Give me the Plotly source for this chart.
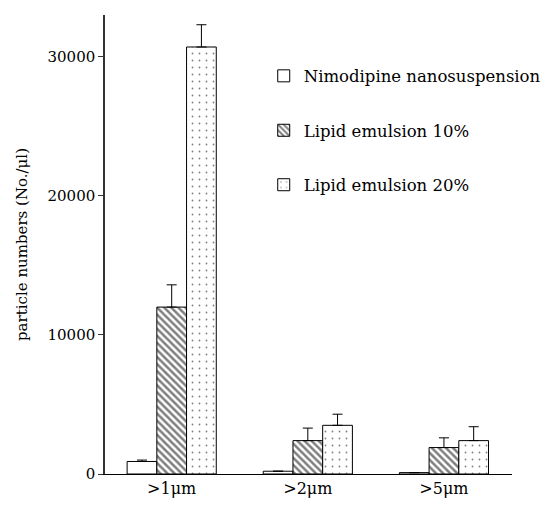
import plotly.graph_objects as go

categories = [">1μm", ">2μm", ">5μm"]
series_names = ["Nimodipine nanosuspension", "Lipid emulsion 10%", "Lipid emulsion 20%"]
nano_vals = [900, 200, 100]
nano_err = [100, 0, 0]
le10_vals = [12000, 2400, 1900]
le10_err = [1600, 900, 700]
le20_vals = [30700, 3500, 2400]
le20_err = [1600, 800, 1000]
y_ticks = [0, 10000, 20000, 30000]
y_tick_text = ["0", "10000", "20000", "30000"]

FONT = "DejaVu Serif"

fig = go.Figure()
specs = [
    (series_names[0], nano_vals, nano_err, dict(shape="")),
    (series_names[1], le10_vals, le10_err, dict(shape="\\", size=5, solidity=0.5, fgcolor="black", bgcolor="white")),
    (series_names[2], le20_vals, le20_err, dict(shape=".", size=7, solidity=0.05, fgcolor="black", bgcolor="white")),
]
for i, (name, vals, err, pat) in enumerate(specs):
    fig.add_trace(go.Bar(
        name=name, x=categories, y=vals, legendgroup=f"g{i}",
        marker=dict(color="white", line=dict(color="black", width=1), pattern=pat),
        error_y=dict(type="data", symmetric=False, array=err, arrayminus=[0]*len(err),
                     color="black", thickness=1, width=5),
    ))

fig.update_layout(
    width=544, height=507,
    margin=dict(l=105, r=32, t=15, b=33, autoexpand=False),
    paper_bgcolor="white", plot_bgcolor="white",
    barmode="group", bargap=0.345, bargroupgap=0,
    font=dict(family=FONT, size=16, color="black"),
    showlegend=True,
    legend=dict(x=0.39, y=0.905, xanchor="left", yanchor="top",
                traceorder="grouped", tracegroupgap=30, itemwidth=30,
                font=dict(family=FONT, size=16.5, color="black"),
                bgcolor="rgba(0,0,0,0)"),
)
fig.update_xaxes(range=[-0.49, 2.5], showline=True, linecolor="black", linewidth=1,
                 ticks="", showgrid=False, zeroline=False,
                 tickfont=dict(family=FONT, size=16))
fig.update_yaxes(range=[0, 33000], showline=True, linecolor="#333", linewidth=1.5,
                 ticks="outside", ticklen=5, tickcolor="#333",
                 tickvals=y_ticks, ticktext=y_tick_text,
                 showgrid=False, zeroline=False, tickfont=dict(family=FONT, size=15),
                 title=dict(text="particle numbers (No./μl)", font=dict(family=FONT, size=15),
                            standoff=16))

fig.write_html("out.html")
